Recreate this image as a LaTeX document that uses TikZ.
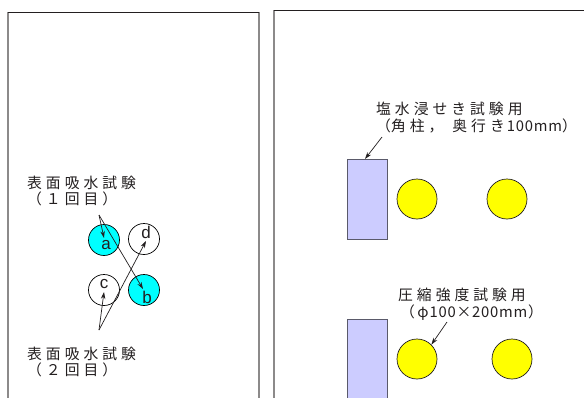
\documentclass[tikz,border=0pt]{standalone}
\usepackage{fontspec}
\setmainfont{Liberation Sans}
\newfontfamily\jp{Noto Sans CJK JP}
\usetikzlibrary{arrows.meta}
\definecolor{sidegray}{HTML}{8C8A8A}
\definecolor{topdark}{HTML}{231F20}
\definecolor{cyanfill}{HTML}{00FFFF}
\definecolor{yelfill}{HTML}{FFFF00}
\definecolor{rectfill}{HTML}{CCCCFF}
\definecolor{rectline}{HTML}{5A5A6A}
\newcommand{\sq}{\hspace{4pt}}
\newcommand{\tk}{\kern0.8pt}
\tikzset{
  panelside/.style={draw=sidegray, line width=1.5pt},
  paneltop/.style={draw=topdark, line width=1pt},
  spec/.style={circle, draw=black, line width=0.7pt, minimum size=31pt, inner sep=0pt},
  ycyl/.style={circle, draw=topdark, line width=0.7pt, fill=yelfill, minimum size=40pt, inner sep=0pt},
  prism/.style={rectangle, draw=rectline, line width=0.9pt, fill=rectfill, minimum width=40pt, minimum height=80pt, inner sep=0pt},
  jplabel/.style={font=\jp\fontsize{14.8pt}{17pt}\selectfont, anchor=base west, inner sep=0pt, text=topdark},
  letter/.style={font=\fontsize{17pt}{17pt}\selectfont, inner sep=0pt, text=topdark},
  ptr/.style={draw=topdark, line width=0.7pt, -{Stealth[length=7pt,width=4.5pt]}}
}
\begin{document}
\begin{tikzpicture}[x=1pt,y=-1pt]
\clip (0,0) rectangle (584,397);
\fill[white] (0,0) rectangle (584,397);
% left panel
\draw[panelside] (8,400) -- (8,12);
\draw[panelside] (259,12) -- (259,400);
\draw[paneltop] (8,12) -- (259,12);
% right panel
\draw[panelside] (274,400) -- (274,10);
\draw[paneltop] (274,10) -- (590,10);
% left specimens
\node[spec, fill=cyanfill] (a) at (104,240) {};
\node[spec, fill=white] (d) at (144,239) {};
\node[spec, fill=white] (c) at (104,290) {};
\node[spec, fill=cyanfill] (b) at (144,290) {};
\node[letter] (la) at (106,245) {a};
\node[letter] (ld) at (146,232) {d};
\node[letter] (lc) at (104,284) {c};
\node[letter] (lb) at (147,297) {b};
% labels left
\node[jplabel] (t1) at (27,188) {表\sq 面\sq 吸\sq 水\sq 試\sq 験};
\node[jplabel] (t1b) at (27,204) {（\sq １\sq 回\sq 目\sq ）};
\node[jplabel] (t2) at (27,359) {表\sq 面\sq 吸\sq 水\sq 試\sq 験};
\node[jplabel] (t2b) at (27,375) {（\sq ２\sq 回\sq 目\sq ）};
\coordinate (p1) at (99,215);
\coordinate (p2) at (99,330);
\draw[ptr] (p1) -- (104,238);
\draw[ptr] (p1) -- (143,289);
\draw[ptr] (p2) -- (104,292);
\draw[ptr] (p2) -- (146,241);
% right panel specimens
\node[prism] (r1) at (367,199) {};
\node[prism] (r2) at (367,359) {};
\node[ycyl] (y1) at (417,199) {};
\node[ycyl] (y2) at (507,199) {};
\node[ycyl] (y3) at (417,359) {};
\node[ycyl] (y4) at (512,359) {};
\node[jplabel] (s1) at (376,114) {塩\sq 水\sq 浸\sq せ\sq き\sq 試\sq 験\sq 用};
\node[jplabel] (s1b) at (376,131) {（角\sq 柱\sq ，\hspace{9pt}奥\sq 行\sq き\hspace{2pt}1\tk 0\tk 0\tk m\tk m）};
\node[jplabel] (s2) at (398,300) {圧\sq 縮\sq 強\sq 度\sq 試\sq 験\sq 用};
\node[jplabel] (s2b) at (400,317) {（\,φ\tk 1\tk 0\tk 0\tk ×\tk 2\tk 0\tk 0\tk m\tk m\tk ）};
\coordinate (q1) at (382,137);
\coordinate (q2) at (447,322);
\draw[ptr] (q1) -- (365,159);
\draw[ptr] (q2) -- (y3.45);
\end{tikzpicture}
\end{document}
